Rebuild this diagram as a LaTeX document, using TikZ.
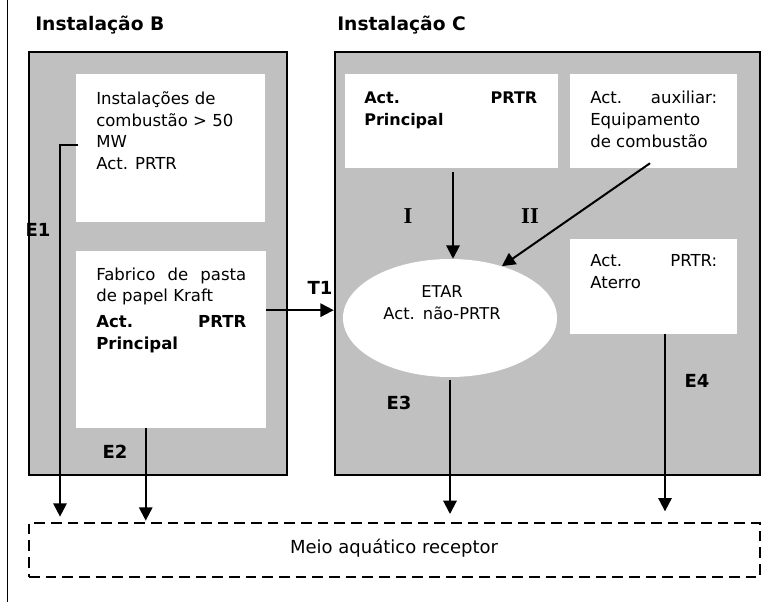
\documentclass[tikz,border=0pt]{standalone}
\usepackage{fontspec}
\setmainfont{DejaVu Sans}
\newfontfamily\romfont{Liberation Serif}
\usetikzlibrary{arrows.meta,fit,shapes.geometric}
\definecolor{cinza}{RGB}{192,192,192}
\tikzset{
  planta/.style={draw, line width=1.9pt, fill=cinza, inner sep=0pt},
  caixa/.style={fill=white, inner sep=0pt},
  texto/.style={anchor=base west, inner sep=0pt, align=justify, font=\fontsize{12.4}{16.3}\selectfont},
  titulo/.style={anchor=base west, inner sep=0pt, font=\fontsize{14}{16}\selectfont\bfseries},
  rotulo/.style={inner sep=0pt, font=\fontsize{13.5}{16}\selectfont\bfseries},
  romano/.style={inner sep=0pt, font=\romfont\bfseries\fontsize{17}{18}\selectfont},
  fluxo/.style={line width=1.5pt, -{Triangle[length=10pt,width=10pt]}},
}
\begin{document}
\begin{tikzpicture}[x=0.75pt, y=-0.75pt]
  \useasboundingbox (0,0) rectangle (763,602);

  % left rule
  \draw[line width=0.75pt] (7,0) -- (7,602);

  % Instalacao B
  \node[titulo] (tituloB) at (35,31) {Instalação B};
  \node[planta, fit={(29,52) (287,475)}] (instB) {};
  \node[caixa, fit={(76,74) (265,222)}] (b1) {};
  \node[texto, text width=112.5pt] (b1txt) at (96,104.5) {Instalações de\\combustão > 50\\MW\\Act. PRTR};
  \node[caixa, fit={(76,251) (266,428)}] (b2) {};
  \node[texto, text width=112.5pt] (b2txt) at (96,280) {Fabrico\hfill de\hfill pasta\\de papel Kraft\\[3pt]\textbf{Act.\hfill PRTR}\\\textbf{Principal}};

  % Instalacao C
  \node[titulo] (tituloC) at (337,31) {Instalação C};
  \node[planta, fit={(335,52) (760,475)}] (instC) {};
  \node[caixa, fit={(345,74) (558,168)}] (c1) {};
  \node[texto, text width=129.75pt, font=\fontsize{12}{16.3}\selectfont\bfseries] (c1txt) at (364,104) {Act.\hfill PRTR\\Principal};
  \node[caixa, fit={(570,74) (737,168)}] (c2) {};
  \node[texto, text width=95.25pt] (c2txt) at (590,104) {Act.\hfill auxiliar:\\Equipamento\\de combustão};
  \node[caixa, fit={(570,239) (737,334)}] (c3) {};
  \node[texto, text width=95.25pt] (c3txt) at (590,267) {Act.\hfill PRTR:\\Aterro};
  \node[caixa, ellipse, minimum width=160.5pt, minimum height=88.5pt] (etar) at (450,318) {};
  \node[texto, anchor=base, align=center, text width=120pt, font=\fontsize{12.2}{16.5}\selectfont] (etartxt) at (442,297) {ETAR\\Act. não-PRTR};

  % Meio receptor
  \node[draw, line width=1.5pt, dash pattern=on 8pt off 4.5pt, inner sep=0pt, fit={(29,523) (760,577)}] (meio) {};
  \node[anchor=base, inner sep=0pt, font=\fontsize{13.5}{16}\selectfont] (meiotxt) at (394,553) {Meio aquático receptor};

  % fluxos
  \coordinate (e1a) at (78,145);
  \coordinate (e1b) at (60,145);
  \draw[fluxo, shorten >=4pt] (e1a) -- (e1b) -- (e1b |- meio.north);
  \draw[fluxo, shorten >=1pt] (b2.south west) ++(70,0) coordinate (e2a) -- (e2a |- meio.north);
  \draw[fluxo] ([yshift=22pt]b2.east) coordinate (t1a) -- (t1a -| instC.west);
  \draw[fluxo] (c1.south) ++(1.5,4) coordinate (ia) -- (ia |- etar.north);
  \draw[fluxo] (c2.south) ++(-3.5,-5) coordinate (iia) -- (etar.45);
  \draw[fluxo, shorten >=6pt] ([yshift=-2pt]etar.south) coordinate (e3a) -- (e3a |- meio.north);
  \draw[fluxo, shorten >=8pt] (c3.south) ++(11.5,0) coordinate (e4a) -- (e4a |- meio.north);

  % rotulos
  \node[rotulo] (E1) at (38,230) {E1};
  \node[rotulo] (E2) at (115,452) {E2};
  \node[rotulo] (T1) at (320,288) {T1};
  \node[rotulo] (E3) at (399,403) {E3};
  \node[rotulo] (E4) at (697,381) {E4};
  \node[romano] (I) at (408,216) {I};
  \node[romano] (II) at (530,216) {II};

\end{tikzpicture}
\end{document}
